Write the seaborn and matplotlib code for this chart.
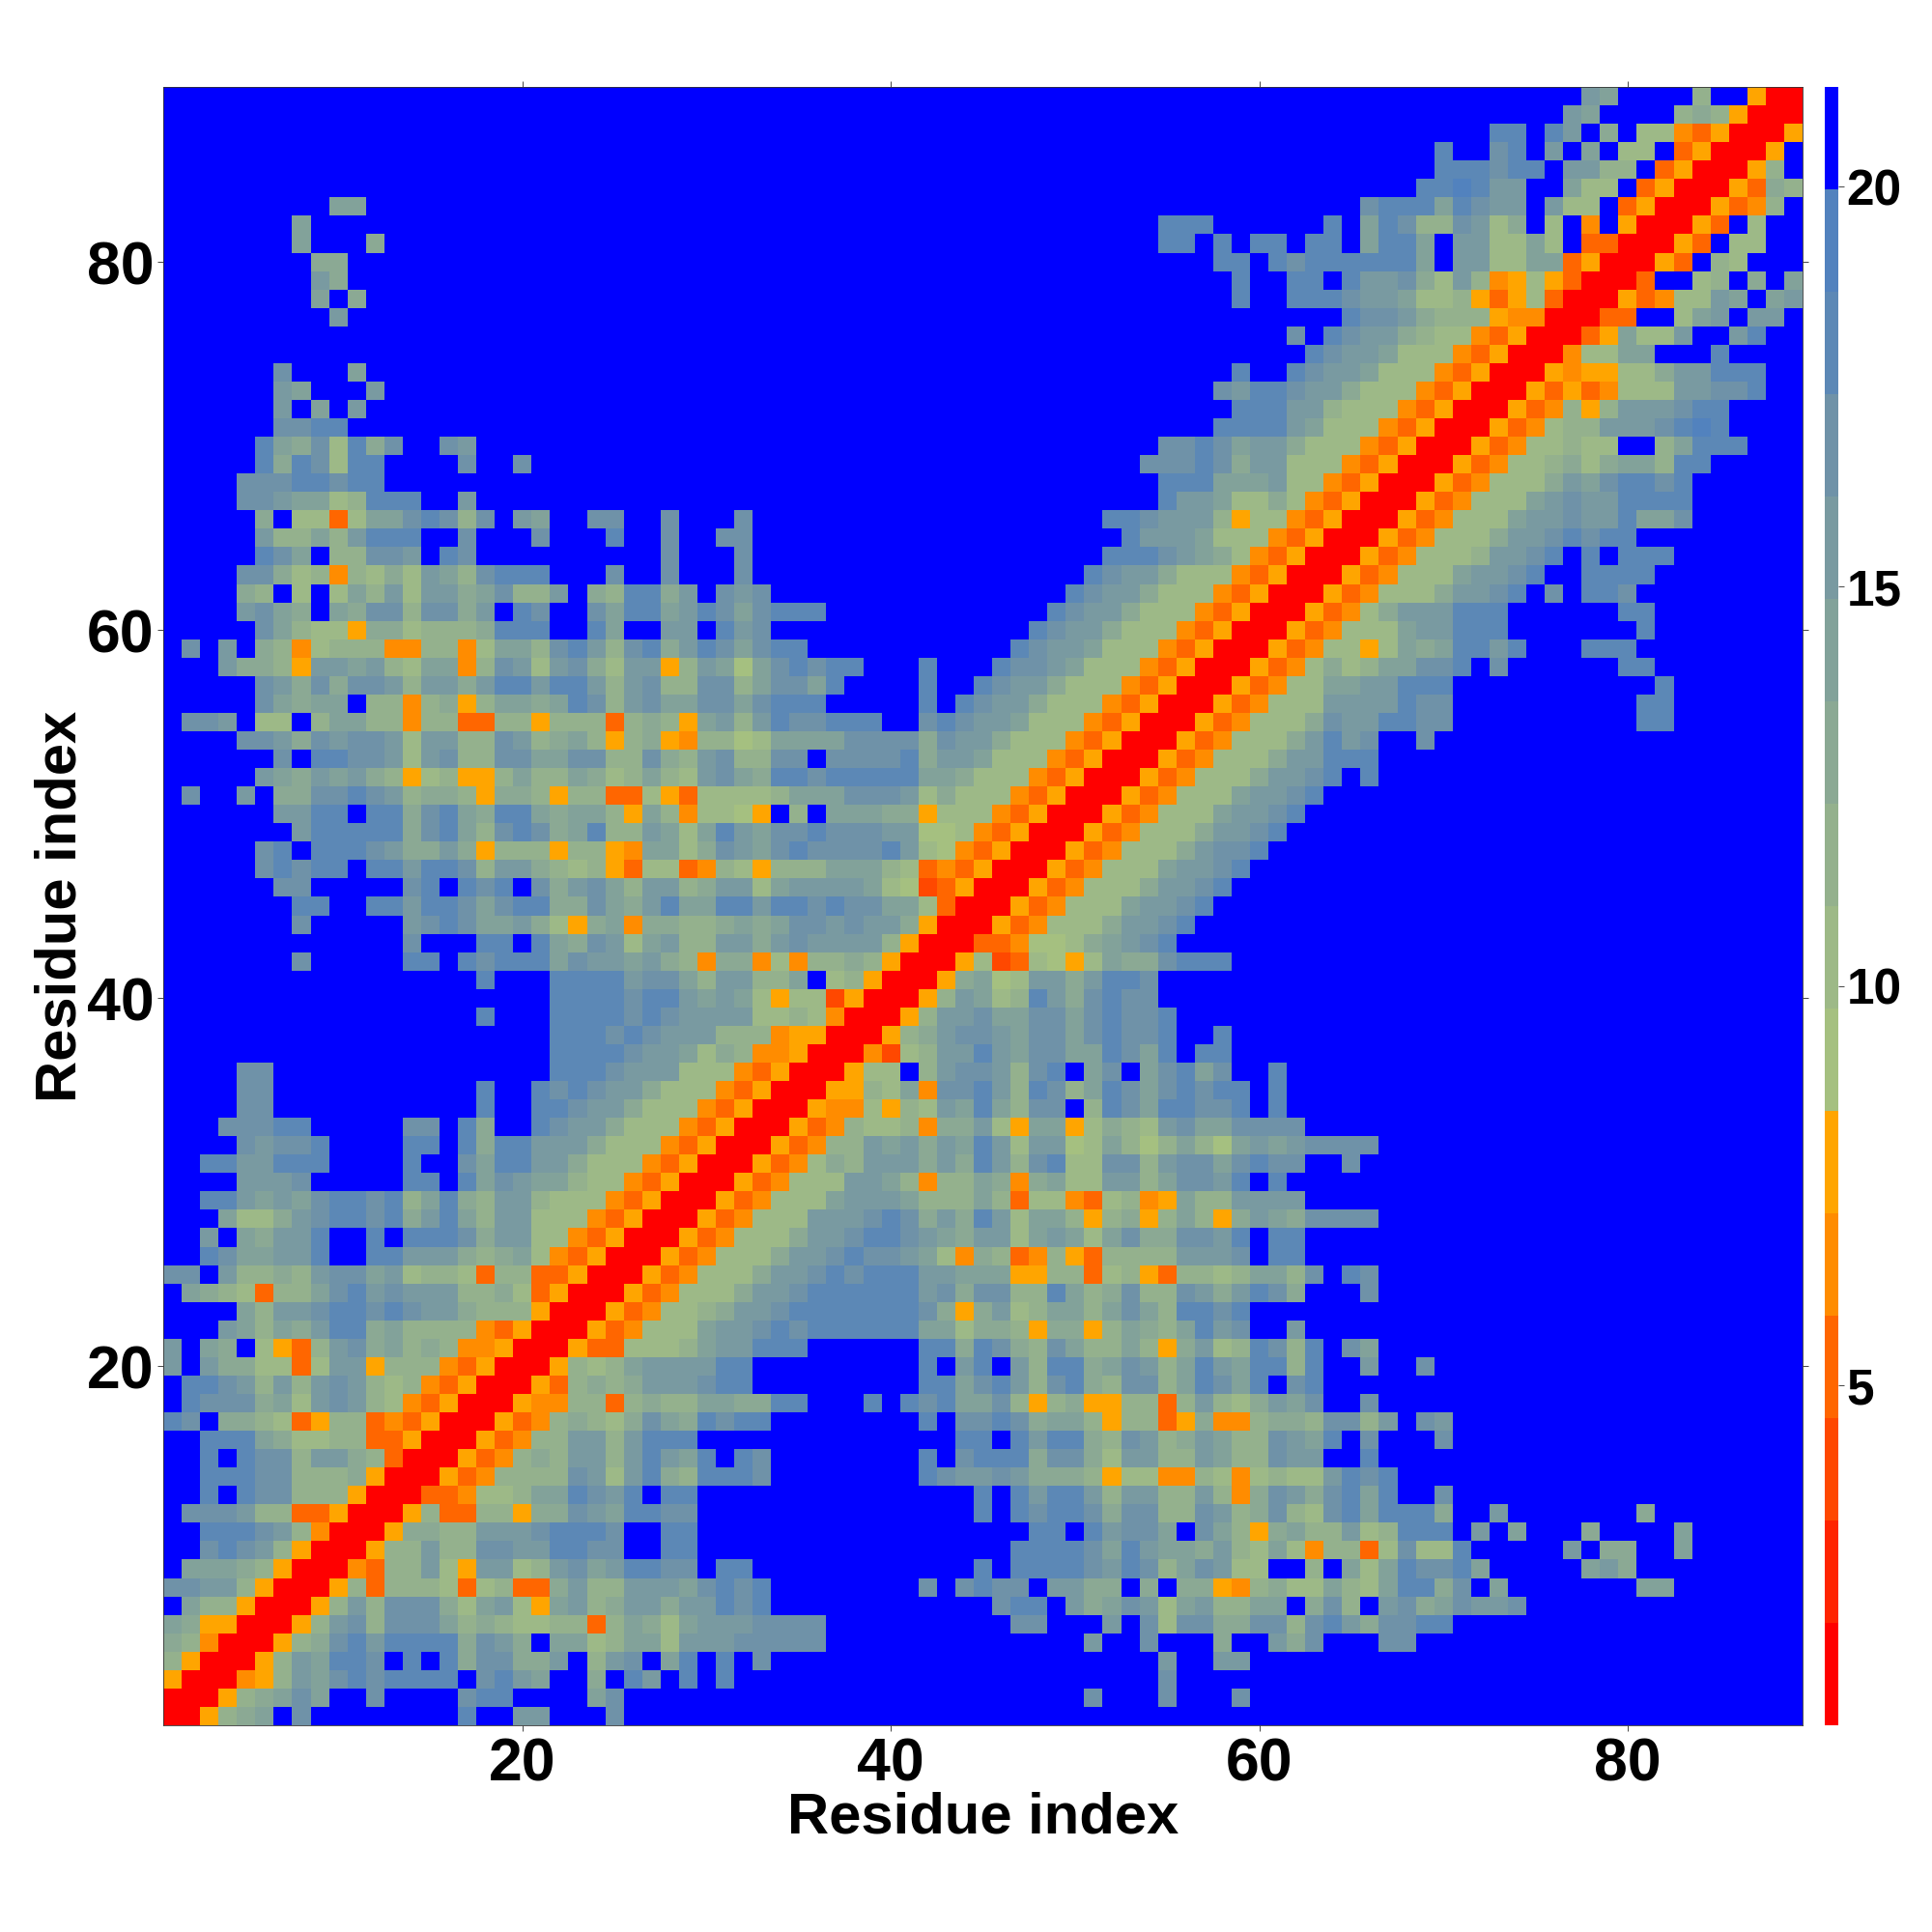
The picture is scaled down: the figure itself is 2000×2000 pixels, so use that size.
import numpy as np
import pandas as pd
import matplotlib
matplotlib.use("Agg")
import matplotlib.pyplot as plt
from matplotlib.colors import ListedColormap
import seaborn as sns

N_RESIDUES = 89
VMIN, VMAX = 0.75, 21.25
LEVEL_COLORS = ["#ff0000", "#ff2400", "#ff4800", "#ff6600", "#ff8c00", "#ffa500",
                "#a5c080", "#9db987", "#94b18d", "#8ba994", "#82a29a",
                "#799aa1", "#6f92a8", "#5c88b6", "#5282be", "#0000ff"]
CBAR_TICKS = [5, 10, 15, 20]
AXIS_TICKS = [20, 40, 60, 80]

# One entry per residue y: "first_x:level codes" segments read from the map,
# hexadecimal colour level per cell; cells not listed are the top (blue) level.
ROW_CELLS = {
    89: "78:ba 84:8 87:500",
    88: "77:ba 83:8985 87:00",
    87: "73:dd 76:db 79:9 81:7743500",
    86: "70:d 73:cd 76:b 78:a 80:77 83:3500",
    85: "70:ddd 73:cdd 77:bb 79:88 82:3500",
    84: "69:ddedbb 77:a77 81:3500",
    83: "10:aa 66:cdddadcbb 76:b77 80:3500",
    82: "8:a 55:ddd 64:d 66:adc88cb79 76:7 78:4 80:500",
    81: "8:a 12:9 55:dd 58:d 60:dd 63:dd 66:adda 71:bb77a7 78:3300",
    80: "9:99 58:dd 61:dcdddddda 71:bb77aa3500",
    79: "9:b9 59:d 62:dd 65:dbbc97b84575300",
    78: "9:a 11:9 59:d 62:dddcbba7785357300",
    77: "10:b 65:dccb988854400",
    76: "62:c 64:dcbb987743500",
    75: "63:dcbba77743500",
    74: "7:c 11:a 59:d 62:dcbba77743500",
    73: "7:ba 12:b 58:cbddcbb977743500",
    72: "7:b 9:a 11:b 59:dddbb877743500",
    71: "7:ccdd 58:ddddba77743500",
    70: "6:da9c7d9c 16:cb 55:ccdcabb977743500",
    69: "6:d9dc7dd 17:c 20:c 54:cccdc9bb77743500",
    68: "5:cccddcdd 55:dddaaab7743500",
    67: "5:ccbaa78ddd 17:b 55:dbba779743500",
    66: "6:9 8:7737aacdc8c 20:ba 24:cc 28:c 32:c 52:ddcbbb857743500",
    65: "6:b88a8bddd 17:c 21:c 25:d 28:c 31:cc 53:dbbba77743500",
    64: "6:dca 10:88ccb 16:dc 28:c 32:c 52:dddcba9743500",
    63: "5:cc97848797ba8cddd 25:c 28:c 32:c 51:dcbb977743500",
    62: "5:98 8:7 10:7a8b7bb9ac88b 24:98dd9b 31:cbc 50:dcbb977743500",
    61: "5:bca9 10:a9cc8cc9b 20:dc 24:caddabdcacddd 49:dcbb977743500",
    60: "6:ca87759978889ddd 24:da 28:bb 31:dbc 48:dcbb977743500",
    59: "2:c 4:b 6:9847888448847aa8cdb8cd9bdcacdd 47:dcbba77743500",
    58: "4:b9985bbab87aa48cb7bc97bb58ba6acdcdd 42:d 46:dccba77743500",
    57: "6:cb9c9ccb8bb9bddbddb8bc88cc8accad 42:d 45:dcbb977743500",
    56: "6:ca9aa 12:8848958aa9adc8bcaaccacddd 42:d 44:dcbb977743500",
    55: "2:ccb 6:77 9:8aa884883388588838985ab8bdccddd 42:cdcbba77743500",
    54: "5:ccb9cbccb7bb88cb89a8589548867aaaacccc9cbb977743500",
    53: "7:c 9:ddccb7bc88ccaacc88c98bc88cc 37:ccccd9bba77743500",
    52: "6:ba9bab98578558a88a978a87bca9ddcdddddaa977743500",
    51: "2:c 5:b 7:99ccdcb899859985883375377778aaacccb7977743500",
    50: "7:bbdd 12:dd9cda9dda9aa85a847765 35:8 37:aaa99577743500",
    49: "8:bddddd9cda8cdc9ad88ba7adbaccdcccbb66743500",
    48: "6:cd 9:dddcb99b9588858854aa79cbacdccccdb7643500",
    47: "6:cdcdd 12:ddbddc8bb9878537734875888aaa87343500",
    46: "7:cc 14:cd 17:dcd 21:c9bca8bb89bb7abbbba7623500",
    45: "8:dd 12:ddbddcacdd99ca9bdaaddbddcdccaa7300",
    44: "8:c 14:bcdcaab9759a499889a9accbcbb9500",
    43: "14:c 18:dd 21:da9cb7ab88bb9bcbbbb8500",
    42: "8:c 14:dd 17:dcdddacbbab984994748898500",
    41: "18:d 22:ddddbcca8bb88a 37:78500",
    40: "22:ddddcddbaba75772500",
    39: "18:d 22:ddddcdcbbbb7787400",
    38: "22:dddcdcbbb88845500",
    37: "22:ddddcbba79844500",
    36: "5:cc 22:dddcbbb77743500",
    35: "5:cc 18:d 21:dcdcbb977743500",
    34: "5:cc 18:d 21:ddcbb977743500",
    33: "4:cccdd 14:cc 17:d9 21:dcbb977743500",
    32: "5:cbccd 14:dd 17:d9ddbbb977743500",
    31: "3:ddbbddd 14:d 17:caddbb977743500",
    30: "5:bbbc 14:dd 17:dacbaa87743500",
    29: "3:ddbabacddcd8ad98bb877743500",
    28: "4:a779bcddcd9bda8bb77743500",
    27: "3:b 5:a9bbd 12:d 14:dddc9bb7743500",
    26: "3:dcaabbd 12:ddbbb989a743500",
    25: "1:cc 4:b8898bccab788738833500",
    24: "2:a987388acdbcbbb88973500",
    23: "5:a8bbcddcdcbb9888500",
    22: "4:ba8a9bdd9a888843500",
    21: "1:b 3:a9 6:7538bc9a89844500",
    20: "1:b 3:b997737bb588843500",
    19: "2:ddcb8b8bcb87843500",
    18: "2:dccc9a7bcb8743500",
    17: "1:dc 4:99873588343500",
    16: "3:ddda9778833500",
    15: "3:d 5:dcc8bb98300",
    14: "3:dddcc8889500",
    13: "3:d 5:dcc888500",
    12: "2:cccb8833500",
    11: "3:dddcb8400",
    10: "3:cdcb8500",
    9: "2:aaa98500",
    8: "1:ccbb8500",
    7: "2:a88500",
    6: "1:a95500",
    5: "1:98400",
    4: "1:8500",
    3: "1:500",
    2: "1:00",
    1: "1:0",
}

step = (VMAX - VMIN) / len(LEVEL_COLORS)
blue = VMIN + step * 15.5
M = np.full((N_RESIDUES, N_RESIDUES), blue)
for y, text in ROW_CELLS.items():
    for seg in text.split():
        x0, codes = seg.split(":")
        for i, ch in enumerate(codes):
            x = int(x0) + i
            v = VMIN + step * (int(ch, 16) + 0.5)
            M[y - 1, x - 1] = v
            M[x - 1, y - 1] = v

ids = np.arange(1, N_RESIDUES + 1)
df = pd.DataFrame(M, index=ids, columns=ids).iloc[::-1]

plt.rcParams["font.family"] = ["Liberation Sans", "DejaVu Sans"]
plt.rcParams["font.weight"] = "bold"
W = 2000.0
fig = plt.figure(figsize=(20, 20), dpi=100)
ax = fig.add_axes([169 / W, 1 - 1786 / W, 1697 / W, 1696 / W])
cax = fig.add_axes([1889 / W, 1 - 1786 / W, 14 / W, 1696 / W])

sns.heatmap(df, ax=ax, cbar_ax=cax, cmap=ListedColormap(LEVEL_COLORS),
            vmin=VMIN, vmax=VMAX, xticklabels=False, yticklabels=False,
            square=False)

xt = [t - 0.5 for t in AXIS_TICKS]
yt = [N_RESIDUES - t + 0.5 for t in AXIS_TICKS]
ax.set_xticks(xt)
ax.set_xticklabels(AXIS_TICKS)
ax.set_yticks(yt)
ax.set_yticklabels(AXIS_TICKS, rotation=0)
ax.tick_params(axis="both", labelsize=45, length=4, width=0.7, color="#444444",
               top=True, right=True, bottom=True, left=True)
ax.tick_params(axis="x", pad=4)
ax.tick_params(axis="y", pad=3)
ax.set_xlabel("Residue index", fontsize=43, fontweight="bold", labelpad=-1)
ax.set_ylabel("Residue index", fontsize=43, fontweight="bold", labelpad=-1)
for s in ax.spines.values():
    s.set_visible(True)
    s.set_linewidth(0.6)
    s.set_color("#333333")

cax.set_yticks(CBAR_TICKS)
cax.set_yticklabels([str(t) for t in CBAR_TICKS], fontsize=37, fontweight="bold")
cax.tick_params(axis="y", length=4, width=0.7, color="#444444", pad=2)

fig.savefig("out.png", dpi=100)
